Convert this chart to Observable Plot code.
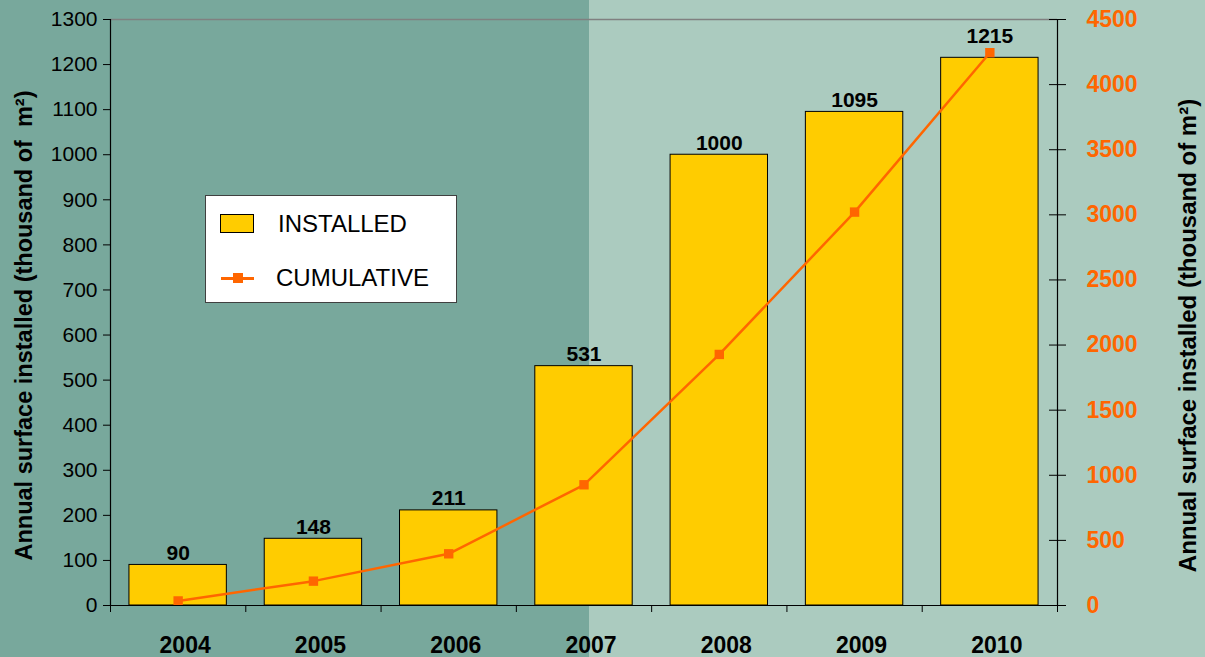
<!DOCTYPE html>
<html>
<head>
<meta charset="utf-8">
<script src="https://cdn.jsdelivr.net/npm/d3@7"></script>
<script src="https://cdn.jsdelivr.net/npm/@observablehq/plot@0.6"></script>
<style>
  html, body { margin: 0; padding: 0; }
  body { width: 1205px; height: 657px; overflow: hidden; font-family: "Liberation Sans", Arial, sans-serif; }
  #wrap { position: relative; width: 1205px; height: 657px; }
  #legend { position: absolute; left: 205px; top: 195px; width: 252px; height: 108px; box-sizing: border-box;
            background: #fff; border: 1px solid #404040; }
  #legend .sw { position: absolute; left: 14px; top: 18px; width: 34px; height: 19px; box-sizing: border-box;
                background: #ffcc00; border: 1px solid #000; }
  #legend .ln { position: absolute; left: 15px; top: 81px; width: 33px; height: 3px; background: #ff6600; }
  #legend .mk { position: absolute; left: 27px; top: 77px; width: 10px; height: 10px; background: #ff6600; }
  #legend .t { position: absolute; font-size: 24px; color: #000; line-height: 1; }
</style>
</head>
<body>
<div id="wrap"></div>
<script>
// ---- data ----
const years = ["2004", "2005", "2006", "2007", "2008", "2009", "2010"];
const installed = [90, 148, 211, 531, 1000, 1095, 1215];
const cumulative = [35, 187, 397, 927, 1928, 3021, 4245];
const leftTicks = [0, 100, 200, 300, 400, 500, 600, 700, 800, 900, 1000, 1100, 1200, 1300];
const rightTicks = [0, 500, 1000, 1500, 2000, 2500, 3000, 3500, 4000, 4500];
const leftMax = 1300;
const rightMax = 4500;
const leftTitle = "Annual surface installed (thousand of\u00a0 m\u00b2)";
const rightTitle = "Annual surface installed (thousand of m\u00b2)";
const legendItems = ["INSTALLED", "CUMULATIVE"];

// ---- derived table ----
const k = leftMax / rightMax;
const rows = years.map((y, i) => ({year: y, i, installed: installed[i], cumulative: cumulative[i]}));
const rightScaled = rightTicks.map(v => v * k);
const font = "'Liberation Sans', Arial, sans-serif";

const chart = Plot.plot({
  width: 1205,
  height: 657,
  marginLeft: 110,
  marginRight: 148,
  marginTop: 19,
  marginBottom: 52,
  style: {
    background: "linear-gradient(to right, #78a89c 0px, #78a89c 589px, #abcbbf 589px, #abcbbf 100%)",
    fontFamily: font,
    color: "#000",
    overflow: "visible"
  },
  x: {type: "linear", domain: [0, years.length]},
  y: {type: "linear", domain: [0, leftMax]},
  marks: [
    Plot.ruleY([leftMax], {stroke: "#808080", strokeWidth: 1.5}),
    Plot.rectY(rows, {x1: d => d.i + 0.14, x2: d => d.i + 0.86, y1: 0, y2: "installed",
      fill: "#ffcc00", stroke: "#000", strokeWidth: 1}),
    // value labels sit above the bar, or above the cumulative marker when it rises over the bar
    Plot.text(rows, {x: d => d.i + 0.5, y: d => Math.max(d.installed, d.cumulative * k + 10), text: d => String(d.installed),
      lineAnchor: "bottom", dy: -5, fontSize: 21, fontWeight: "bold", fill: "#000"}),
    Plot.line(rows, {x: d => d.i + 0.5, y: d => d.cumulative * k, stroke: "#ff6600", strokeWidth: 2.5}),
    Plot.dot(rows, {x: d => d.i + 0.5, y: d => d.cumulative * k, symbol: "square", r: 5.3, fill: "#ff6600", stroke: null}),
    // axes lines
    Plot.ruleY([0], {stroke: "#000", strokeWidth: 1.2}),
    Plot.ruleX([0], {stroke: "#000", strokeWidth: 1.2, y1: 0, y2: leftMax}),
    Plot.ruleX([years.length], {stroke: "#000", strokeWidth: 1.2, y1: 0, y2: leftMax}),
    // left axis
    Plot.axisY(leftTicks, {anchor: "left", tickSize: 7, tickPadding: 6, fontSize: 21, label: null,
      stroke: "#000", fill: "#000", tickFormat: d => String(d)}),
    // right axis (cumulative scale)
    Plot.axisY(rightScaled, {anchor: "right", tickSize: 8, tickPadding: 21, fontSize: 23, fontWeight: "bold",
      label: null, fill: "#ff6600", stroke: "#000", tickFormat: d => String(Math.round(d / k))}),
    Plot.ruleY(rightScaled, {y: d => d, x1: years.length, x2: years.length, insetLeft: -8, stroke: "#000"}),
    // x axis: boundary ticks and year labels
    Plot.axisX(d3.range(0, years.length + 1), {tickSize: 7, tickFormat: () => "", label: null, stroke: "#000"}),
    Plot.axisX(years.map((y, i) => i + 0.5), {tickSize: 0, tickPadding: 31, fontSize: 23, fontWeight: "bold", dx: 7,
      label: null, fill: "#000", tickFormat: d => years[Math.floor(d)]}),
    // axis titles
    Plot.text([leftTitle], {frameAnchor: "left", dx: -86, dy: 13, rotate: -90, fontSize: 23.5, fontWeight: "bold",
      lineAnchor: "middle", textAnchor: "middle", fill: "#000"}),
    Plot.text([rightTitle], {frameAnchor: "right", dx: 131, dy: 23, rotate: -90, fontSize: 24, fontWeight: "bold",
      lineAnchor: "middle", textAnchor: "middle", fill: "#000"})
  ]
});

const wrap = document.getElementById("wrap");
wrap.appendChild(chart);

const legend = document.createElement("div");
legend.id = "legend";
legend.innerHTML =
  '<div class="sw"></div>' +
  '<div class="t" style="left:72px; top:16px;">' + legendItems[0] + '</div>' +
  '<div class="ln"></div><div class="mk"></div>' +
  '<div class="t" style="left:70px; top:70px;">' + legendItems[1] + '</div>';
wrap.appendChild(legend);
</script>
</body>
</html>
